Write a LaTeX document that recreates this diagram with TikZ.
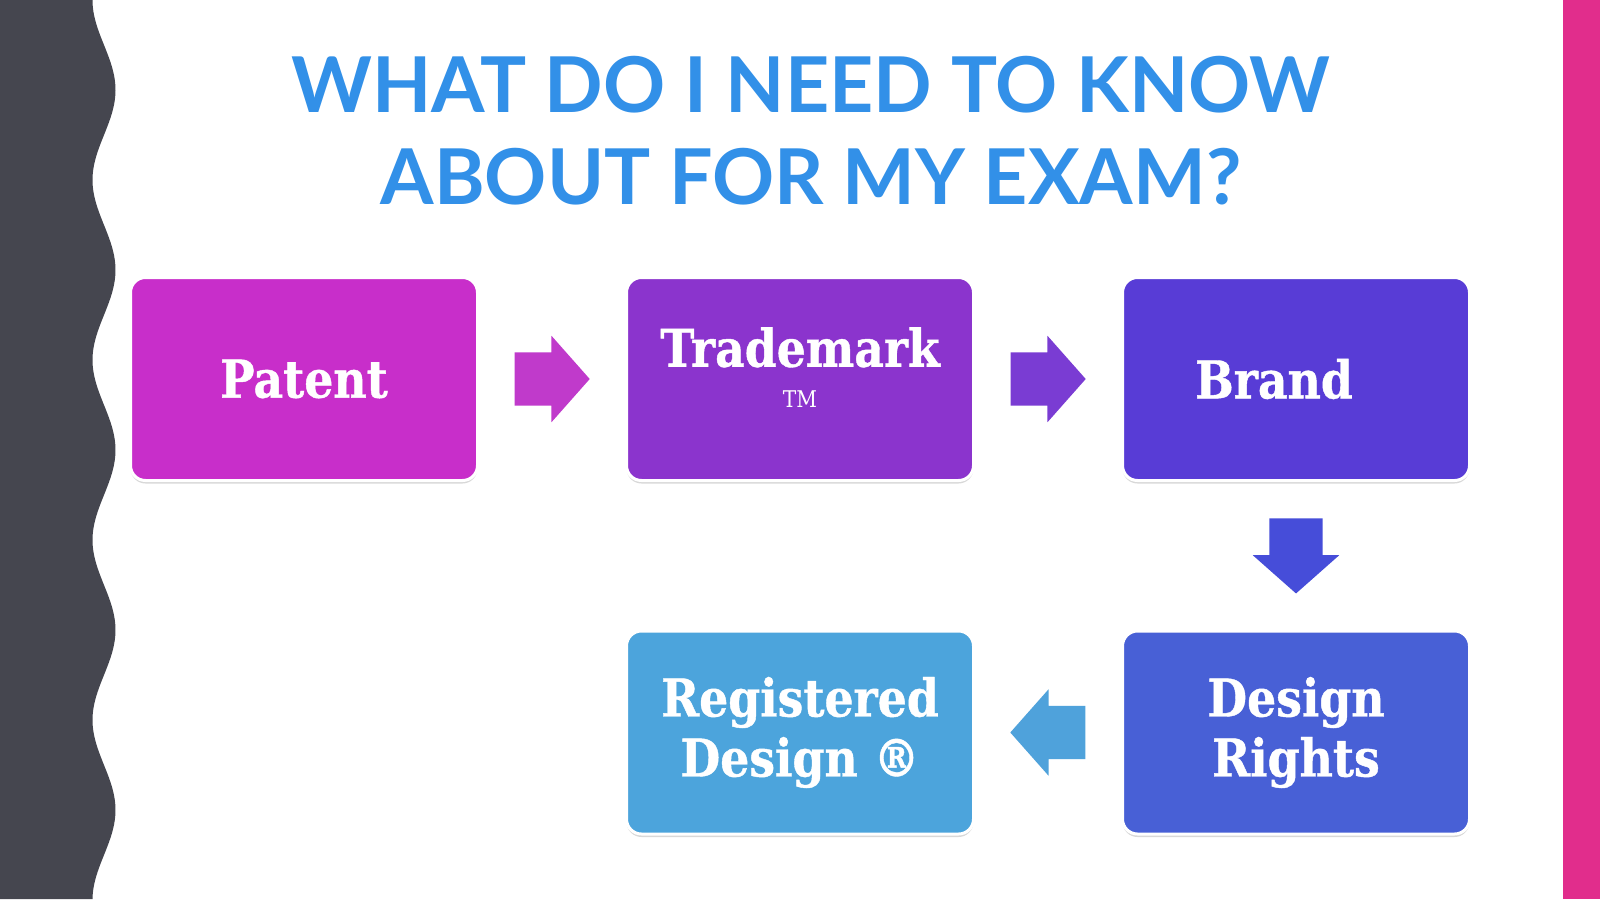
\documentclass[tikz,border=0pt]{standalone}
\usepackage{fontspec}
\usepackage{xcolor}
\usepackage{tikz}
\usetikzlibrary{calc, positioning, shapes.arrows, shadows}
\newfontfamily\titlefont{Lato}
\newfontfamily\boxfont[FakeStretch=0.88, BoldFeatures={FakeBold=0.8}]{DejaVu Serif}
\definecolor{bandGray}{HTML}{45464F}
\definecolor{bandPink}{HTML}{E12D8C}
\definecolor{titleBlue}{HTML}{3290E8}
\definecolor{patentCol}{HTML}{C82ECA}
\definecolor{tradeCol}{HTML}{8B34CD}
\definecolor{brandCol}{HTML}{583CD6}
\definecolor{rightsCol}{HTML}{4860D6}
\definecolor{regCol}{HTML}{4CA4DC}
\definecolor{arrowOne}{HTML}{C03ACB}
\definecolor{arrowTwo}{HTML}{7A3CD3}
\definecolor{arrowThree}{HTML}{464DD9}
\definecolor{arrowFour}{HTML}{4FA2DB}
\tikzset{
    topic/.style={rectangle, rounded corners=15pt, draw=white, line width=3pt, minimum width=347pt, minimum height=203pt, text=white, align=center, font=\boxfont\bfseries\fontsize{52}{60}\selectfont, drop shadow={shadow xshift=0pt, shadow yshift=-3pt, opacity=0.3}},
    flowArrow/.style={single arrow, anchor=tail, minimum height=75pt, minimum width=86pt, single arrow head extend=16.5pt, single arrow tip angle=97, inner xsep=0pt, inner ysep=26.5pt},
    heading/.style={font=\titlefont\bfseries\fontsize{77}{92}\selectfont, text=titleBlue, align=center, inner sep=0pt}
}
\begin{document}
\begin{tikzpicture}[x=1pt, y=-1pt]
        \useasboundingbox (0,0) rectangle (1600,899);
        \fill[white] (0,0) rectangle (1600,899);

        % Side bands
        \fill[bandGray] (0,0) -- plot[domain=0:899, samples=300, smooth] ({104-11.5*cos(2*\x)}, \x) -- (0,899) -- cycle;
        \fill[bandPink] (1563,0) rectangle (1600,899);

        % Title
        \node[heading] (title) at (811,130.5) {WHAT DO I NEED TO KNOW\\ABOUT FOR MY EXAM?};

        % Boxes
        \node[topic, fill=patentCol] (Patent) at (304,379) {Patent};
        \node[topic, fill=tradeCol, text depth=23pt, right=146pt of Patent] (Trademark) {Trademark\\[-19pt]{\mdseries\fontsize{23}{26}\selectfont TM}};
        \node[topic, fill=brandCol, right=146pt of Trademark] (Brand) {Brand\hspace*{44pt}};
        \node[topic, fill=rightsCol, below=147.5pt of Brand] (Rights) {Design\\Rights};
        \node[topic, fill=regCol, left=146pt of Rights] (Registered) {Registered\\Design \textregistered};

        % Arrows
        \node[flowArrow, fill=arrowOne] (arrPatent) at ($(Patent.east)!0.5!(Trademark.west)+(-37.5pt,0pt)$) {};
        \node[flowArrow, fill=arrowTwo] (arrTrade) at ($(Trademark.east)!0.5!(Brand.west)+(-37.5pt,0pt)$) {};
        \node[flowArrow, fill=arrowThree, rotate=-90] (arrBrand) at ($(Brand.south)!0.5!(Rights.north)+(0pt,37.5pt)$) {};
        \node[flowArrow, fill=arrowFour, rotate=180] (arrRights) at ($(Rights.west)!0.5!(Registered.east)+(37.5pt,0pt)$) {};
    \end{tikzpicture}
\end{document}
